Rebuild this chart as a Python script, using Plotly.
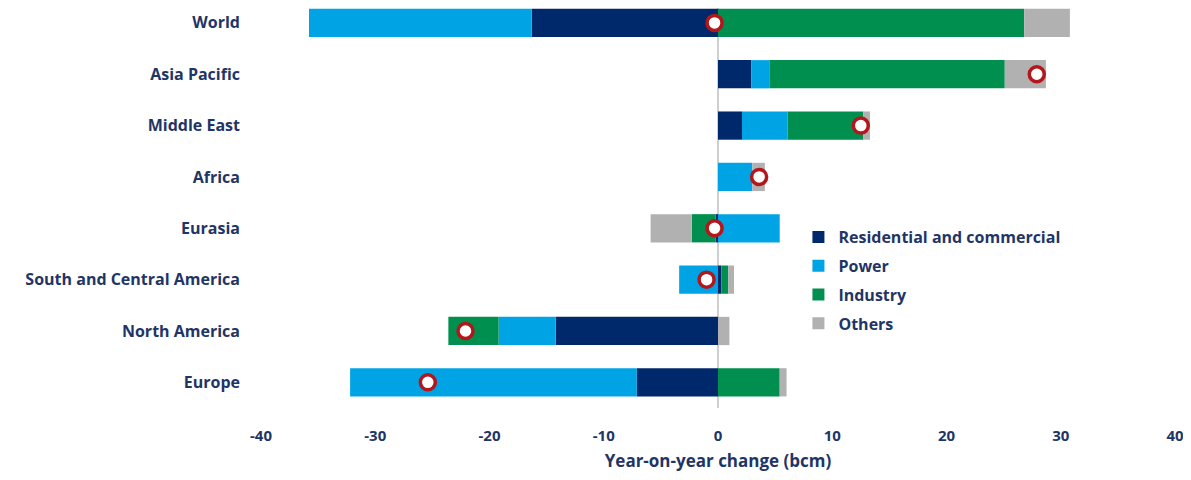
import plotly.graph_objects as go

regions = [
    "World",
    "Asia Pacific",
    "Middle East",
    "Africa",
    "Eurasia",
    "South and Central America",
    "North America",
    "Europe",
]
residential = [-16.3, 2.9, 2.1, 0.0, -0.2, 0.3, -14.2, -7.1]
power = [-19.5, 1.6, 4.0, 3.0, 5.4, -3.4, -5.0, -25.1]
industry = [26.8, 20.6, 6.6, 0.0, -2.1, 0.6, -4.4, 5.4]
others = [4.0, 3.6, 0.6, 1.1, -3.6, 0.5, 1.0, 0.6]
net_change = [-0.3, 27.9, 12.5, 3.6, -0.3, -1.0, -22.1, -25.4]

x_ticks = [-40, -30, -20, -10, 0, 10, 20, 30, 40]
x_tick_text = ["-40", "-30", "-20", "-10", "0", "10", "20", "30", "40"]

NAVY = "#1f3566"
FONT = "Open Sans"

series = [
    ("Residential and commercial", residential, "#00296b"),
    ("Power", power, "#00a3e3"),
    ("Industry", industry, "#008f4f"),
    ("Others", others, "#b1b1b1"),
]

fig = go.Figure()
for name, values, color in series:
    fig.add_trace(
        go.Bar(
            y=regions,
            x=values,
            name=name,
            legendgroup=name,
            orientation="h",
            marker=dict(color=color, line=dict(width=0)),
        )
    )

fig.add_trace(
    go.Scatter(
        y=regions,
        x=net_change,
        mode="markers",
        showlegend=False,
        marker=dict(symbol="circle", size=15, color="white", line=dict(color="#b3161b", width=3.5)),
    )
)

# page body adds an 8px margin, so the figure is sized to fit inside the window
fig.update_layout(
    barmode="relative",
    bargap=0.45,
    width=1175,
    height=464,
    plot_bgcolor="white",
    paper_bgcolor="white",
    margin=dict(l=253, r=8, t=0, b=64),
    font=dict(family=FONT, color=NAVY, size=14, weight="bold"),
    legend=dict(
        x=0.588,
        y=0.47,
        xanchor="left",
        yanchor="top",
        font=dict(size=16, color=NAVY, weight="bold"),
        traceorder="grouped",
        itemwidth=30,
        tracegroupgap=5,
        bgcolor="rgba(0,0,0,0)",
    ),
    xaxis=dict(
        range=[-40, 40],
        tickvals=x_ticks,
        ticktext=x_tick_text,
        showgrid=False,
        zeroline=True,
        zerolinecolor="#cfcfcf",
        zerolinewidth=1.5,
        showline=False,
        ticks="",
        ticklabeloverflow="allow",
        ticklabelstandoff=17,
        tickfont=dict(size=15, weight="bold"),
        title=dict(text="Year-on-year change (bcm)", font=dict(size=17, weight="bold"), standoff=11),
    ),
    yaxis=dict(
        categoryorder="array",
        categoryarray=regions[::-1],
        range=[-0.5, 7.29],
        showgrid=False,
        showline=False,
        ticks="",
        ticklabelstandoff=20,
        tickfont=dict(size=16, weight="bold"),
    ),
)

fig.write_html("out.html")
